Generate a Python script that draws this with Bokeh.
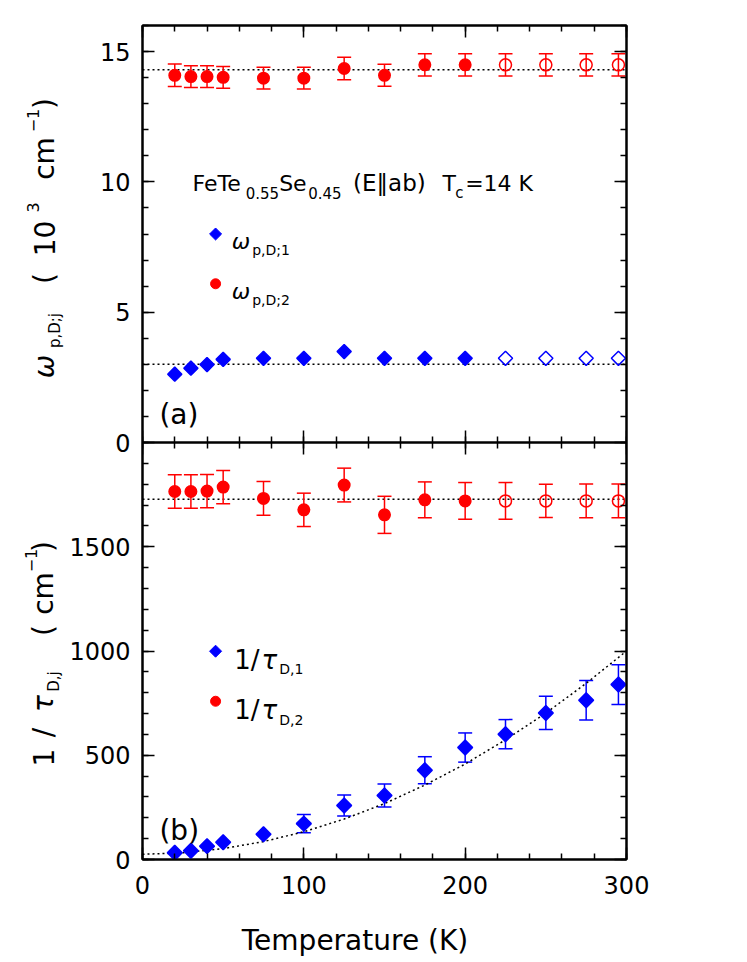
import numpy as np
from bokeh.plotting import figure
from bokeh.models import (ColumnDataSource, Range1d, LinearAxis, FixedTicker,
                          Whisker, TeeHead, Span, Label, CustomLabelingPolicy)
from bokeh.layouts import column, row
from bokeh.embed import file_html
from bokeh.resources import INLINE
from bokeh.core.properties import value

# ---------------- data ----------------
T = [20, 30, 40, 50, 75, 100, 125, 150, 175, 200, 225, 250, 275, 295]
T_OPEN = 225  # symbols at and above this temperature are open

wp1 = [2.62, 2.85, 2.99, 3.19, 3.23, 3.23, 3.49, 3.23, 3.23, 3.23, 3.23, 3.23, 3.23, 3.23]
wp2 = [14.09, 14.04, 14.04, 14.01, 13.98, 13.98, 14.35, 14.09, 14.49, 14.49, 14.49, 14.49, 14.49, 14.49]
wp2_err = [0.43, 0.42, 0.42, 0.42, 0.42, 0.42, 0.43, 0.42, 0.43, 0.43, 0.43, 0.43, 0.43, 0.43]

rate1 = [32, 42, 64, 83, 121, 172, 259, 307, 428, 537, 601, 703, 764, 839]
rate1_err = [0, 0, 0, 0, 0, 44, 50, 55, 65, 70, 70, 80, 95, 95]
rate2 = [1765, 1765, 1767, 1786, 1732, 1677, 1796, 1653, 1725, 1720, 1720, 1720, 1720, 1720]
rate2_err = [80, 80, 80, 80, 81, 80, 81, 89, 86, 88, 88, 80, 81, 81]

wp1_level = 3.0
wp2_level = 14.3
rate2_level = 1728
fit_T = [0, 25, 50, 75, 100, 125, 150, 175, 200, 225, 250, 275, 300]
fit_rate1 = [25, 32, 52, 86, 133, 194, 268, 357, 458, 574, 702, 845, 1000]

x_ticks = [0, 100, 200, 300]
x_minor = list(range(0, 301, 20))
top_ticks = [0, 5, 10, 15]
top_minor = list(range(0, 17))
bot_ticks = [0, 500, 1000, 1500]
bot_minor = list(range(0, 2001, 100))
TOP_MAX = 16      # top panel: 0 .. 16 (10^3 cm^-1)
BOT_MAX = 2000    # bottom panel: 0 .. 2000 cm^-1

RED = "#ff0000"
BLUE = "#0000ff"
FONT = "DejaVu Sans"
DOT = "2 3"

LW = 66          # width of the left strip holding the y-axis titles
FW = 484         # frame width
ML = 140 - LW    # left border of the panels
MR = 84
TOP = "top"


def split(xs, ys, es=None):
    f = dict(x=[], y=[], e=[])
    o = dict(x=[], y=[], e=[])
    for i, (a, b) in enumerate(zip(xs, ys)):
        d = o if a >= T_OPEN else f
        d["x"].append(a)
        d["y"].append(b)
        d["e"].append(es[i] if es else 0)
    return f, o


def style_axis(ax, labels, standoff=12):
    ax.axis_line_width = 2
    ax.axis_line_color = "black"
    ax.major_tick_in = 12
    ax.major_tick_out = 0
    ax.minor_tick_in = 6
    ax.minor_tick_out = 0
    ax.major_tick_line_width = 1.5
    ax.minor_tick_line_width = 1.5
    ax.major_tick_line_color = "black"
    ax.minor_tick_line_color = "black"
    if labels:
        ax.major_label_text_font = FONT
        ax.major_label_text_font_size = "24px"
        ax.major_label_text_color = "black"
        ax.major_label_standoff = standoff
    else:
        ax.major_label_text_font_size = "0px"
        ax.major_label_standoff = 0
        ax.major_label_policy = CustomLabelingPolicy(
            code="for (const i of indices) { if (i < 0) yield i }")


def whisk(p, d, color, rname="default"):
    xs = [a for a, e in zip(d["x"], d["e"]) if e > 0]
    lo = [b - e for b, e in zip(d["y"], d["e"]) if e > 0]
    hi = [b + e for b, e in zip(d["y"], d["e"]) if e > 0]
    if not xs:
        return
    src = ColumnDataSource(dict(base=xs, lower=lo, upper=hi))
    w = Whisker(source=src, base="base", lower="lower", upper="upper",
                dimension="height", line_color=color, line_width=1.5,
                y_range_name=rname,
                lower_head=TeeHead(size=14, line_color=color, line_width=1.5),
                upper_head=TeeHead(size=14, line_color=color, line_width=1.5))
    p.add_layout(w)


def lab(p, text, x, y, size, italic=False, rname="default"):
    p.add_layout(Label(x=x, y=y, text=text, text_font=FONT,
                       text_font_size=f"{size}px", y_range_name=rname,
                       text_font_style="italic" if italic else "normal",
                       text_color="black", text_align="left",
                       text_baseline="alphabetic"))


def gtext(p, text, x, y, size, italic=False, angle=0.0, align="left",
          baseline="alphabetic"):
    p.text(x=[x], y=[y], text=[text], angle=angle,
           text_font=value(FONT), text_font_size=value(f"{size}px"),
           text_font_style="italic" if italic else "normal",
           text_color="black", text_align=align, text_baseline=baseline)


def vtext(p, text, cx, cy, size, italic=False):
    """vertical (bottom-to-top) text piece centred on page point (cx, cy)"""
    gtext(p, text, cx, H - cy, size, italic=italic, angle=np.pi / 2,
          align="center", baseline="middle")


def diamonds(p, d, size, filled, rname="default"):
    p.scatter(d["x"], d["y"], marker="square", angle=np.pi / 4, size=size,
              line_color=BLUE, line_width=1.5, y_range_name=rname,
              fill_color=BLUE if filled else None)


def circles(p, d, size, filled, rname="default"):
    p.scatter(d["x"], d["y"], marker="circle", size=size,
              line_color=RED, line_width=1.5, y_range_name=rname,
              fill_color=RED if filled else None)


def blank_fig(w, h, xr, bl=0, br=0):
    p = figure(frame_width=w, frame_height=h,
               x_range=xr, y_range=Range1d(0, h),
               x_axis_location=None, y_axis_location=None,
               output_backend="svg", toolbar_location=None,
               min_border_left=bl, min_border_right=br,
               min_border_top=0, min_border_bottom=0,
               background_fill_color="white", border_fill_color="white")
    p.grid.visible = False
    p.outline_line_color = None
    return p


# ---------------- one frame, two stacked panels ----------------
# default y range: bottom panel (0..BOT_MAX fills the lower half)
# extra range "top": top panel (0..TOP_MAX fills the upper half)
p = figure(frame_width=FW, frame_height=834,
           x_range=Range1d(0, 300), y_range=Range1d(0, 2 * BOT_MAX),
           x_axis_location=None, y_axis_location=None,
           output_backend="svg", toolbar_location=None,
           min_border_left=ML, min_border_right=MR,
           min_border_top=25, min_border_bottom=50,
           background_fill_color="white", border_fill_color="white")
p.extra_y_ranges = {TOP: Range1d(-TOP_MAX, TOP_MAX)}
p.grid.visible = False
p.outline_line_color = "black"
p.outline_line_width = 2

scale = BOT_MAX / TOP_MAX
y_ticks = bot_ticks + [BOT_MAX + v * scale for v in top_ticks]
y_minor = bot_minor + [BOT_MAX + v * scale for v in top_minor]
y_over = {BOT_MAX + v * scale: str(v) for v in top_ticks}

b = LinearAxis(ticker=FixedTicker(ticks=x_ticks, minor_ticks=x_minor))
style_axis(b, True, 16)
p.add_layout(b, "below")
a = LinearAxis(ticker=FixedTicker(ticks=x_ticks, minor_ticks=x_minor))
style_axis(a, False)
p.add_layout(a, "above")
# panel boundary: ticks pointing into both panels
mb = LinearAxis(ticker=FixedTicker(ticks=x_ticks, minor_ticks=x_minor),
                fixed_location=BOT_MAX)
style_axis(mb, False)
p.add_layout(mb, "below")
ma = LinearAxis(ticker=FixedTicker(ticks=x_ticks, minor_ticks=x_minor),
                fixed_location=BOT_MAX)
style_axis(ma, False)
p.add_layout(ma, "above")
l = LinearAxis(ticker=FixedTicker(ticks=y_ticks, minor_ticks=y_minor))
style_axis(l, True, 12)
l.major_label_overrides = y_over
p.add_layout(l, "left")
r = LinearAxis(ticker=FixedTicker(ticks=y_ticks, minor_ticks=y_minor))
style_axis(r, False)
p.add_layout(r, "right")

# ---- top panel (a) ----
for lvl in (wp1_level, wp2_level):
    p.add_layout(Span(location=lvl, dimension="width", line_color="black",
                      line_width=1.5, line_dash=DOT, level="underlay",
                      y_range_name=TOP))
f1, o1 = split(T, wp1)
f2, o2 = split(T, wp2, wp2_err)
whisk(p, f2, RED, TOP)
whisk(p, o2, RED, TOP)
diamonds(p, f1, 10, True, TOP)
diamonds(p, o1, 10, False, TOP)
circles(p, f2, 11.5, True, TOP)
circles(p, o2, 12, False, TOP)

p.scatter([45.3], [8.0], marker="square", angle=np.pi / 4, size=8.5,
          fill_color=BLUE, line_color=BLUE, y_range_name=TOP)
p.scatter([45.3], [6.09], marker="circle", size=10,
          fill_color=RED, line_color=RED, y_range_name=TOP)
lab(p, "ω", 55.3, 7.71, 22, True, TOP)
lab(p, "p,D;1", 68, 7.39, 14, False, TOP)
lab(p, "ω", 55.3, 5.79, 22, True, TOP)
lab(p, "p,D;2", 68, 5.48, 14, False, TOP)

lab(p, "FeTe", 31, 9.95, 22, False, TOP)
lab(p, "0.55", 64, 9.59, 15, False, TOP)
lab(p, "Se", 84.7, 9.95, 22, False, TOP)
lab(p, "0.45", 102.7, 9.59, 15, False, TOP)
lab(p, "(E‖ab)", 130.5, 9.95, 23, False, TOP)
lab(p, "T", 186, 9.95, 22, False, TOP)
lab(p, "c", 193.9, 9.59, 15, False, TOP)
lab(p, "=14 K", 200, 9.95, 22, False, TOP)
lab(p, "(a)", 10.5, 1.07, 28, False, TOP)

# ---- bottom panel (b) ----
p.add_layout(Span(location=rate2_level, dimension="width", line_color="black",
                  line_width=1.5, line_dash=DOT, level="underlay"))
p.line(fit_T, fit_rate1, line_color="black", line_width=1.5, line_dash=DOT)
g1 = dict(x=list(T), y=list(rate1), e=list(rate1_err))
g2, h2 = split(T, rate2, rate2_err)
whisk(p, g1, BLUE)
whisk(p, g2, RED)
whisk(p, h2, RED)
diamonds(p, g1, 10.5, True)
circles(p, g2, 11.5, True)
circles(p, h2, 12, False)

p.scatter([45.3], [999], marker="square", angle=np.pi / 4, size=8.5,
          fill_color=BLUE, line_color=BLUE)
p.scatter([45.3], [759], marker="circle", size=10,
          fill_color=RED, line_color=RED)
lab(p, "1/", 56.8, 955, 26)
lab(p, "τ", 73.8, 955, 26, True)
lab(p, "D,1", 84.7, 912, 14)
lab(p, "1/", 56.8, 716, 26)
lab(p, "τ", 73.8, 716, 26, True)
lab(p, "D,2", 84.7, 671, 14)
lab(p, "(b)", 10.5, 141, 28)

# ---------------- x-axis title strip (x in page pixels) ----------------
p3 = blank_fig(FW, 50, Range1d(140, 140 + FW), ML, MR)
gtext(p3, "Temperature (K)", 352.5, 19, 28, align="center")

# ---------------- y-axis title strip (page pixels) ----------------
H = 959
pl = blank_fig(LW, H, Range1d(0, LW))
# top: omega_{p,D;j} (10^3 cm^-1)
vtext(pl, "ω", 43.5, 366, 28, italic=True)
vtext(pl, "p,D;j", 54.5, 330, 15)
vtext(pl, "(", 43.5, 278, 28)
vtext(pl, "10", 43.5, 238, 28)
vtext(pl, "3", 32.5, 207, 16)
vtext(pl, "cm", 43.5, 158, 28)
vtext(pl, "−1", 32.5, 120, 16)
vtext(pl, ")", 43.5, 103, 28)
# bottom: 1/tau_{D,j} (cm^-1)
vtext(pl, "1", 42.5, 757, 28)
vtext(pl, "/", 42.5, 732, 28)
vtext(pl, "τ", 42.5, 703, 28, italic=True)
vtext(pl, "D,j", 53, 681, 15)
vtext(pl, "(", 42.5, 630, 28)
vtext(pl, "cm", 42.5, 593, 28)
vtext(pl, "−1", 30, 560, 16)
vtext(pl, ")", 42.5, 546, 28)

layout = row(pl, column(p, p3, spacing=0), spacing=0)
open("out.html", "w").write(file_html(layout, INLINE))
